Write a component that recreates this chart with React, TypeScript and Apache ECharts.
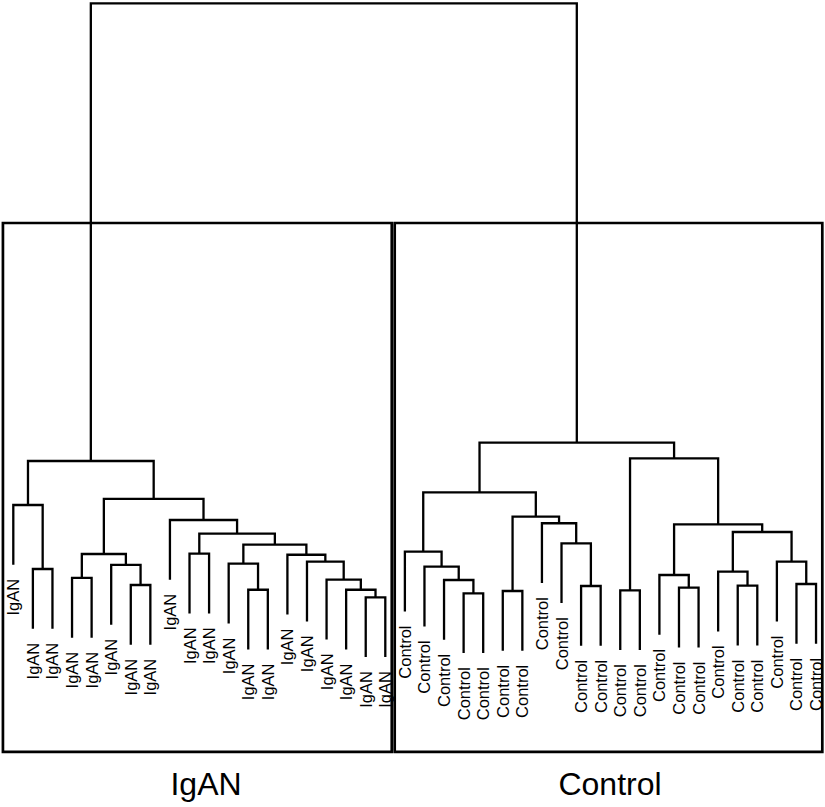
import React, { useEffect, useRef } from "react";
import * as echarts from "echarts";

// Leaf labels in dendrogram order (left to right)
const leafLabels = [
  "IgAN", "IgAN", "IgAN", "IgAN", "IgAN", "IgAN", "IgAN", "IgAN", "IgAN", "IgAN",
  "IgAN", "IgAN", "IgAN", "IgAN", "IgAN", "IgAN", "IgAN", "IgAN", "IgAN", "IgAN",
  "Control", "Control", "Control", "Control", "Control", "Control", "Control", "Control",
  "Control", "Control", "Control", "Control", "Control", "Control", "Control", "Control",
  "Control", "Control", "Control", "Control", "Control", "Control",
];

// hclust-style merge matrix: negative = leaf (1-based position), positive = earlier merge row (1-based)
const mergeLeft = [
  -2, -1, -4, -7, -6, 3, -13, -12, -19, -18,
  -17, -16, -15, 8, -10, 15, -9, 6, 2, -24,
  -23, -22, -21, -26, -30, -29, -28, 24, 23, -32,
  -35, -34, -38, -37, -41, -40, 34, 32, 30, 29,
  19,
];
const mergeRight = [
  -3, 1, -5, -8, 4, 5, -14, 7, -20, 9,
  10, 11, 12, 13, -11, 14, 16, 17, 18, -25,
  20, 21, 22, -27, -31, 25, 26, 27, 28, -33,
  -36, 31, -39, 33, -42, 35, 36, 37, 38, 39,
  40,
];
const mergeHeight = [
  13.86, 23.6, 12.49, 11.42, 14.47, 16.14, 10.7, 14.66, 9.55, 10.7,
  12.23, 14.97, 16.03, 17.56, 16.19, 19.23, 21.32, 24.52, 30.3, 10.16,
  12.18, 14.21, 16.49, 10.51, 11.27, 17.77, 20.82, 21.82, 25.54, 10.61,
  11.01, 12.94, 11.31, 13.45, 11.57, 14.97, 19.49, 20.66, 30.71, 33.09,
  100,
];
const hang = 9.1;

// Cluster rectangles (k = 2)
const clusterNames = ["IgAN", "Control"];
const rectLeftEdge = [0.47, 20.48];
const rectRightEdge = [20.33, 42.32];
const rectBottom = -14;

export default function App() {
  const ref = useRef<HTMLDivElement>(null);

  useEffect(() => {
    if (!ref.current) return;
    const chart = echarts.init(ref.current, null, { renderer: "svg" });

    // compute node positions
    const nodeX: number[] = [];
    const childPos = (c: number, parentH: number): [number, number] => {
      if (c < 0) return [-c, parentH - hang];
      return [nodeX[c - 1], mergeHeight[c - 1]];
    };
    const links: number[][] = [];
    const leafBottoms: number[][] = [];
    for (let i = 0; i < mergeHeight.length; i++) {
      const h = mergeHeight[i];
      const [xl, hl] = childPos(mergeLeft[i], h);
      const [xr, hr] = childPos(mergeRight[i], h);
      nodeX.push((xl + xr) / 2);
      links.push([xl, hl, xr, hr, h]);
      if (mergeLeft[i] < 0) leafBottoms.push([-mergeLeft[i], hl]);
      if (mergeRight[i] < 0) leafBottoms.push([-mergeRight[i], hr]);
    }
    leafBottoms.sort((a, b) => a[0] - b[0]);

    const sortedH = [...mergeHeight].sort((a, b) => b - a);
    const rectTop = (sortedH[0] + sortedH[1]) / 2;
    const rects = rectLeftEdge.map((l, i) => [l, rectRightEdge[i], rectTop, rectBottom]);

    const font = "'Liberation Sans', Arial, Helvetica, sans-serif";

    chart.setOption({
      animation: false,
      backgroundColor: "#ffffff",
      grid: { left: 5.47, top: 3.3, width: 818.4, height: 755.2, outerBoundsMode: "none" } as any,
      xAxis: { type: "value", min: 0.6, max: 42.4, show: false },
      yAxis: { type: "value", min: -15, max: 100, show: false },
      series: [
        {
          type: "custom",
          clip: false,
          encode: { x: [0, 2], y: [1, 3, 4] },
          data: links,
          renderItem: (params: any, api: any) => {
            const x1 = api.value(0), h1 = api.value(1), x2 = api.value(2), h2 = api.value(3), h = api.value(4);
            const pts = [api.coord([x1, h1]), api.coord([x1, h]), api.coord([x2, h]), api.coord([x2, h2])];
            return {
              type: "polyline",
              shape: { points: pts },
              style: { stroke: "#000", lineWidth: 2.3, fill: null },
            };
          },
        },
        {
          type: "custom",
          clip: false,
          encode: { x: 0, y: 1 },
          data: leafBottoms,
          renderItem: (params: any, api: any) => {
            const p = api.coord([api.value(0), api.value(1)]);
            return {
              type: "text",
              x: p[0],
              y: p[1] + 14,
              rotation: Math.PI / 2,
              style: {
                text: leafLabels[params.dataIndex],
                fontSize: 16.5,
                fontFamily: font,
                align: "right",
                verticalAlign: "middle",
                fill: "#000",
              },
            };
          },
        },
        {
          type: "custom",
          clip: false,
          encode: { x: [0, 1], y: [2, 3] },
          data: rects,
          renderItem: (params: any, api: any) => {
            const a = api.coord([api.value(0), api.value(2)]);
            const b = api.coord([api.value(1), api.value(3)]);
            return {
              type: "rect",
              shape: { x: a[0], y: a[1], width: b[0] - a[0], height: b[1] - a[1] },
              style: { stroke: "#000", lineWidth: 2.7, fill: null },
            };
          },
        },
      ],
      graphic: [
        {
          type: "text",
          x: 206,
          y: 784,
          style: { text: clusterNames[0], fontSize: 32, fontFamily: font, align: "center", verticalAlign: "middle", fill: "#000" },
        },
        {
          type: "text",
          x: 610,
          y: 784,
          style: { text: clusterNames[1], fontSize: 32, fontFamily: font, align: "center", verticalAlign: "middle", fill: "#000" },
        },
      ],
    });

    return () => chart.dispose();
  }, []);

  return (
    <div
      ref={ref}
      style={{ position: "fixed", left: 0, top: 0, width: 825, height: 807, background: "#fff" }}
    />
  );
}
